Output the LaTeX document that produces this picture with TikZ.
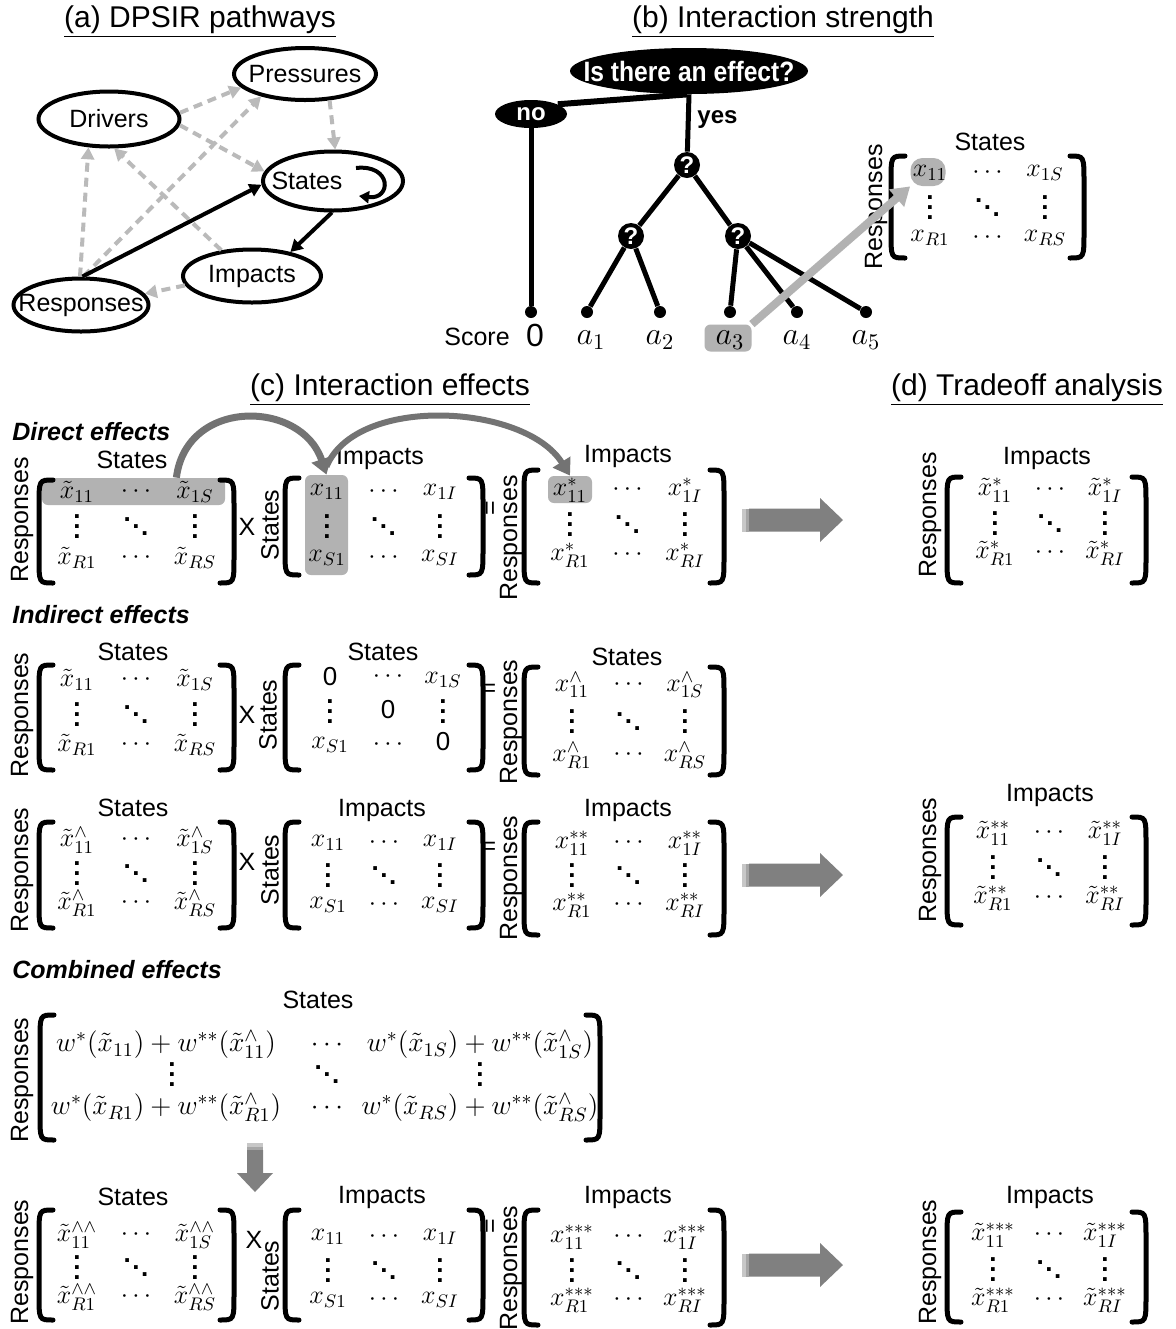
\RequirePackage{fix-cm}
\documentclass[tikz,border=0pt]{standalone}
\usepackage{graphicx}
\usepackage{fontspec}
\setmainfont{Liberation Sans}
\usetikzlibrary{arrows.meta,shapes.geometric}

\newcommand{\vdt}{\vbox{\baselineskip=5pt\lineskiplimit=0pt\hbox{\textbf{.}}\hbox{\textbf{.}}\hbox{\textbf{.}}}}
\newcommand{\ddt}{\hbox{\raise7pt\hbox{\textbf{.}}\kern0.8pt\raise3.5pt\hbox{\textbf{.}}\kern0.8pt\hbox{\textbf{.}}}}

\newcommand{\mbrk}[4]{%
 \draw[brkt] (#1+14,#3) .. controls (#1,#3) .. (#1,#3+26) -- (#1,#4-26) .. controls (#1,#4) .. (#1+14,#4);
 \draw[brkt] (#2-14,#3) .. controls (#2,#3) .. (#2,#3+26) -- (#2,#4-26) .. controls (#2,#4) .. (#2-14,#4);}

\newcommand{\mfill}[9]{%
 \node[ent] (#1a) at (#2,#4) {$#6$};
 \node[ent] (#1b) at ({(#2+#3)/2},#4) {$\cdots$};
 \node[ent] (#1c) at (#3,#4) {$#7$};
 \node[ent] (#1d) at (#2,{(#4+#5)/2+2}) {\vdt};
 \node[ent] (#1e) at ({(#2+#3)/2},{(#4+#5)/2+2}) {\ddt};
 \node[ent] (#1f) at (#3,{(#4+#5)/2+2}) {\vdt};
 \node[ent] (#1g) at (#2,#5) {$#8$};
 \node[ent] (#1h) at ({(#2+#3)/2},#5) {$\cdots$};
 \node[ent] (#1i) at (#3,#5) {$#9$};}

\newcommand{\rblock}[2]{%
 \fill[black!50] (#1+7,#2-11.5) -- (#1+78,#2-11.5) -- (#1+78,#2-22) -- (#1+101,#2) -- (#1+78,#2+22) -- (#1+78,#2+11.5) -- (#1+7,#2+11.5) -- cycle;
 \fill[black!22] (#1,#2-11.5) rectangle (#1+4,#2+11.5);
 \fill[black!35] (#1+4,#2-11.5) rectangle (#1+7,#2+11.5);}

\tikzset{
 lab/.style={font=\fontsize{12.5}{14}\selectfont, inner sep=0pt},
 ttl/.style={font=\fontsize{15}{18}\selectfont, inner sep=0pt},
 sec/.style={font=\fontsize{12.5}{14}\selectfont\bfseries\itshape, anchor=west, inner sep=0pt},
 ent/.style={font=\fontsize{13}{15}\selectfont, inner sep=0pt},
 cent/.style={font=\fontsize{13.8}{16}\selectfont, inner sep=0pt},
 mth/.style={font=\fontsize{16}{18}\selectfont, inner sep=0pt},
 brkt/.style={line width=2.5pt, line cap=round},
 hl/.style={fill=black!30, rounded corners=3pt, inner sep=0pt},
 dpsir/.style={ellipse, draw, line width=2pt, inner sep=0pt, font=\fontsize{12.5}{14}\selectfont},
 dsh/.style={draw=black!27, line width=2pt, dash pattern=on 4.5pt off 3pt, -{Triangle[length=6pt,width=6.5pt]}},
 blk/.style={line width=2pt, -{Triangle[length=6pt,width=6.5pt]}},
 qn/.style={circle, fill=black, text=white, font=\bfseries\fontsize{12}{14}\selectfont, minimum size=13pt, inner sep=0pt},
 leaf/.style={circle, fill=black, minimum size=6pt, inner sep=0pt},
 tre/.style={line width=2.5pt},
 garrow/.style={draw=black!30, line width=4pt, -{Triangle[length=9pt,width=11pt]}},
 carrow/.style={draw=black!55, -{Triangle[length=8pt,width=10pt]}},
}

\begin{document}
\begin{tikzpicture}[x=0.5pt,y=-0.5pt]
\fill[white] (0,0) rectangle (1175,1329);
\useasboundingbox (0,0) rectangle (1175,1329);

% ---------------- (a) ----------------
\node[ttl] (ta) at (200,22) {\underline{(a) DPSIR pathways}};
\node[dpsir, minimum width=71pt, minimum height=26pt] (P) at (305,74) {\makebox[0pt]{Pressures}};
\node[dpsir, minimum width=70.5pt, minimum height=27.5pt] (D) at (109,119) {\makebox[0pt]{Drivers}};
\node[dpsir, minimum width=70pt, minimum height=29.5pt] (S) at (333,181) {\makebox[0pt]{States\hspace{26pt}}};
\node[dpsir, minimum width=69pt, minimum height=26.5pt] (I) at (252,276) {\makebox[0pt]{Impacts}};
\node[dpsir, minimum width=67.5pt, minimum height=26.5pt] (R) at (81,305) {\makebox[0pt]{Responses}};

\draw[dsh] (D.5) -- (P.192);
\draw[dsh] (D.-5) -- (S.172);
\draw[dsh] (P.-47) -- (S.86);
\draw[dsh] (R.92) -- (D.-126);
\draw[dsh] (R.85) -- (P.207);
\draw[dsh] (I.140) -- (D.-80);
\draw[dsh] (I.188) -- (R.10);
\draw[blk] (R.87) -- (S.183);
\draw[blk] (S.-92) -- (I.32);
\coordinate (sl1) at (356,168);
\coordinate (sl2) at (359,196);
\draw[line width=2pt, -{Triangle[length=5pt,width=6pt]}] (sl1) .. controls (392,164) and (392,200) .. (sl2);

% ---------------- (b) ----------------
\node[ttl] (tb) at (783,22) {\underline{(b) Interaction strength}};
\node[ellipse, fill=black, text=white, minimum width=119pt, minimum height=23pt, inner sep=0pt, font=\bfseries\fontsize{14}{16}\selectfont] (E) at (689,71) {\makebox[0pt]{\scalebox{0.88}[1]{Is there an effect?}}};
\node[ellipse, fill=black, text=white, minimum width=36pt, minimum height=14pt, inner sep=0pt, font=\bfseries\fontsize{12}{14}\selectfont] (no) at (531,114) {\makebox[0pt]{no}};
\node[qn] (q1) at (687,165) {?};
\node[qn] (qL) at (631,236) {?};
\node[qn] (qR) at (738,236) {?};
\node[leaf] (l0) at (531,312) {};
\node[leaf] (l1) at (587,312) {};
\node[leaf] (l2) at (660,312) {};
\node[leaf] (l3) at (730,312) {};
\node[leaf] (l4) at (797,312) {};
\node[leaf] (l5) at (866,312) {};
\draw[line width=3pt] (E.-95) -- (no.20);
\draw[tre] (E.south) -- (q1);
\draw[tre] (no) -- (l0);
\draw[tre] (q1) -- (qL);
\draw[tre] (q1) -- (qR);
\draw[tre] (qL) -- (l1);
\draw[tre] (qL) -- (l2);
\draw[tre] (qR) -- (l3);
\draw[tre] (qR) -- (l4);
\draw[tre] (qR) -- (l5);
\node[font=\bfseries\fontsize{12}{14}\selectfont, anchor=west, inner sep=0pt] (yes) at (697,120) {yes};

\node[lab] (sc) at (477,337) {Score};
\node[mth] (s0) at (535,335) {0};
\node[hl, minimum width=23.5pt, minimum height=13.5pt] (a3b) at (728,338) {};
\node[mth] (sa1) at (591,340) {$a_1$};
\node[mth] (sa2) at (660,340) {$a_2$};
\node[mth] (sa3) at (730,340) {$a_3$};
\node[mth] (sa4) at (797,340) {$a_4$};
\node[mth] (sa5) at (866,340) {$a_5$};

\node[lab] (bS) at (990,142) {States};
\node[lab, rotate=90] (bR) at (876,207) {Responses};
\node[fill=black!30, rounded corners=6pt, minimum width=17.5pt, minimum height=14pt, inner sep=0pt] (bhl) at (928,172) {};
\mbrk{891}{1084}{156}{258}
\mfill{bm}{930}{1045}{173}{238}{x_{11}}{x_{1S}}{x_{R1}}{x_{RS}}
\draw[garrow] (a3b.north east) -- (bhl.south west);

% ---------------- titles (c),(d) ----------------
\node[ttl] (tc) at (390,390) {\underline{(c) Interaction effects}};
\node[ttl] (td) at (1027,390) {\underline{(d) Tradeoff analysis}};

% ---------------- Row 1: direct effects ----------------
\node[sec] (sdir) at (12,432) {Direct effects};
\node[hl, minimum width=91.5pt, minimum height=13.5pt] (hA1) at (133.5,491.5) {};
\node[hl, minimum width=21.5pt, minimum height=50pt] (hB1) at (326.5,525) {};
\node[hl, minimum width=22pt, minimum height=13.5pt] (hC1) at (570,489.5) {};

\node[lab, rotate=90] (A1r) at (22,520) {Responses};
\node[lab] (A1t) at (132,460) {States};
\mbrk{39}{234}{480}{583}
\mfill{A1}{77}{195}{492}{558}{\tilde{x}_{11}}{\tilde{x}_{1S}}{\tilde{x}_{R1}}{\tilde{x}_{RS}}
\node[lab] (x1) at (247,527) {X};
\node[lab, rotate=90] (B1r) at (270,525) {States};
\node[lab] (B1t) at (380,458) {Impacts};
\mbrk{285}{483}{478}{575}
\mfill{B1}{327}{440}{492}{558}{x_{11}}{x_{1I}}{x_{S1}}{x_{SI}}
\node[lab, rotate=90] (eq1) at (492,508) {=};
\node[lab, rotate=90] (C1r) at (511,538) {Responses};
\node[lab] (C1t) at (628,456) {Impacts};
\mbrk{524}{724}{470}{583}
\mfill{C1}{570}{685}{490}{555}{x^{\ast}_{11}}{x^{\ast}_{1I}}{x^{\ast}_{R1}}{x^{\ast}_{RI}}
\rblock{742}{520}
\node[lab, rotate=90] (D1r) at (930,515) {Responses};
\node[lab] (D1t) at (1047,458) {Impacts};
\mbrk{947}{1146}{477}{583}
\mfill{D1}{995}{1105}{490}{553}{\tilde{x}^{\ast}_{11}}{\tilde{x}^{\ast}_{1I}}{\tilde{x}^{\ast}_{R1}}{\tilde{x}^{\ast}_{RI}}

\draw[carrow, line width=3.5pt] ([xshift=-24.5pt]hA1.north east) .. controls +(10,-80) and +(-25,-75) .. (hB1.north);
\draw[carrow, line width=3pt] ([yshift=4pt]hB1.north) .. controls +(30,-72) and +(-45,-72) .. (hC1.north);

% ---------------- Row 2: indirect effects ----------------
\node[sec] (sind) at (12,615) {Indirect effects};
\node[lab, rotate=90] (A2r) at (22,715) {Responses};
\node[lab] (A2t) at (133,652) {States};
\mbrk{39}{234}{665}{770}
\mfill{A2}{77}{195}{680}{745}{\tilde{x}_{11}}{\tilde{x}_{1S}}{\tilde{x}_{R1}}{\tilde{x}_{RS}}
\node[lab] (x2) at (247,715) {X};
\node[lab, rotate=90] (B2r) at (268,715) {States};
\node[lab] (B2t) at (383,652) {States};
\mbrk{285}{483}{665}{770}
\node[ent] (B2a) at (330,677) {0};
\node[ent] (B2b) at (388,677) {$\cdots$};
\node[ent] (B2c) at (443,680) {$x_{1S}$};
\node[ent] (B2d) at (330,712) {\vdt};
\node[ent] (B2e) at (388,710) {0};
\node[ent] (B2f) at (443,712) {\vdt};
\node[ent] (B2g) at (330,745) {$x_{S1}$};
\node[ent] (B2h) at (388,745) {$\cdots$};
\node[ent] (B2i) at (443,742) {0};
\node[lab] (eq2) at (489,690) {=};
\node[lab, rotate=90] (C2r) at (511,722) {Responses};
\node[lab] (C2t) at (627,657) {States};
\mbrk{524}{724}{667}{775}
\mfill{C2}{572}{685}{685}{755}{x^{\wedge}_{11}}{x^{\wedge}_{1S}}{x^{\wedge}_{R1}}{x^{\wedge}_{RS}}

% ---------------- Row 3 ----------------
\node[lab, rotate=90] (A3r) at (22,870) {Responses};
\node[lab] (A3t) at (133,808) {States};
\mbrk{39}{234}{822}{928}
\mfill{A3}{77}{195}{840}{903}{\tilde{x}^{\wedge}_{11}}{\tilde{x}^{\wedge}_{1S}}{\tilde{x}^{\wedge}_{R1}}{\tilde{x}^{\wedge}_{RS}}
\node[lab] (x3) at (247,862) {X};
\node[lab, rotate=90] (B3r) at (270,870) {States};
\node[lab] (B3t) at (382,810) {Impacts};
\mbrk{285}{483}{822}{928}
\mfill{B3}{328}{440}{843}{905}{x_{11}}{x_{1I}}{x_{S1}}{x_{SI}}
\node[lab] (eq3) at (489,848) {=};
\node[lab, rotate=90] (C3r) at (511,878) {Responses};
\node[lab] (C3t) at (628,810) {Impacts};
\mbrk{524}{724}{822}{935}
\mfill{C3}{572}{685}{843}{905}{x^{\ast\ast}_{11}}{x^{\ast\ast}_{1I}}{x^{\ast\ast}_{R1}}{x^{\ast\ast}_{RI}}
\rblock{742}{875}
\node[lab, rotate=90] (D3r) at (930,860) {Responses};
\node[lab] (D3t) at (1050,795) {Impacts};
\mbrk{947}{1146}{817}{925}
\mfill{D3}{993}{1105}{833}{898}{\tilde{x}^{\ast\ast}_{11}}{\tilde{x}^{\ast\ast}_{1I}}{\tilde{x}^{\ast\ast}_{R1}}{\tilde{x}^{\ast\ast}_{RI}}

% ---------------- Combined ----------------
\node[sec] (scom) at (12,970) {Combined effects};
\node[lab, rotate=90] (Cr) at (22,1080) {Responses};
\node[lab] (Ct) at (318,1000) {States};
\mbrk{40}{600}{1015}{1140}
\node[cent] (Ca) at (166,1045) {$w^{\ast}(\tilde{x}_{11})+w^{\ast\ast}(\tilde{x}^{\wedge}_{11})$};
\node[cent] (Cb) at (327,1045) {$\cdots$};
\node[cent] (Cc) at (480,1045) {$w^{\ast}(\tilde{x}_{1S})+w^{\ast\ast}(\tilde{x}^{\wedge}_{1S})$};
\node[ent] (Cd) at (172,1075) {\vdt};
\node[ent] (Ce) at (327,1075) {\ddt};
\node[ent] (Cf) at (480,1075) {\vdt};
\node[cent] (Cg) at (166,1108) {$w^{\ast}(\tilde{x}_{R1})+w^{\ast\ast}(\tilde{x}^{\wedge}_{R1})$};
\node[cent] (Ch) at (327,1108) {$\cdots$};
\node[cent] (Ci) at (480,1108) {$w^{\ast}(\tilde{x}_{RS})+w^{\ast\ast}(\tilde{x}^{\wedge}_{RS})$};

\fill[black!50] (247,1150) -- (263,1150) -- (263,1173) -- (273,1173) -- (255,1192) -- (237,1173) -- (247,1173) -- cycle;
\fill[black!22] (247,1143) rectangle (263,1147);
\fill[black!35] (247,1147) rectangle (263,1150);

% ---------------- Row 5 ----------------
\node[lab, rotate=90] (A5r) at (22,1262) {Responses};
\node[lab] (A5t) at (133,1197) {States};
\mbrk{39}{234}{1210}{1320}
\mfill{A5}{77}{195}{1235}{1297}{\tilde{x}^{\wedge\wedge}_{11}}{\tilde{x}^{\wedge\wedge}_{1S}}{\tilde{x}^{\wedge\wedge}_{R1}}{\tilde{x}^{\wedge\wedge}_{RS}}
\node[lab] (x5) at (254,1240) {X};
\node[lab, rotate=90] (B5r) at (270,1276) {States};
\node[lab] (B5t) at (382,1197) {Impacts};
\mbrk{285}{483}{1210}{1320}
\mfill{B5}{328}{440}{1237}{1300}{x_{11}}{x_{1I}}{x_{S1}}{x_{SI}}
\node[lab, rotate=90] (eq5) at (492,1226) {=};
\node[lab, rotate=90] (C5r) at (511,1268) {Responses};
\node[lab] (C5t) at (628,1197) {Impacts};
\mbrk{524}{724}{1210}{1325}
\mfill{C5}{572}{685}{1237}{1300}{x^{\ast\ast\ast}_{11}}{x^{\ast\ast\ast}_{1I}}{x^{\ast\ast\ast}_{R1}}{x^{\ast\ast\ast}_{RI}}
\rblock{742}{1265}
\node[lab, rotate=90] (D5r) at (930,1262) {Responses};
\node[lab] (D5t) at (1050,1197) {Impacts};
\mbrk{947}{1146}{1212}{1322}
\mfill{D5}{993}{1105}{1235}{1300}{\tilde{x}^{\ast\ast\ast}_{11}}{\tilde{x}^{\ast\ast\ast}_{1I}}{\tilde{x}^{\ast\ast\ast}_{R1}}{\tilde{x}^{\ast\ast\ast}_{RI}}
\end{tikzpicture}
\end{document}
